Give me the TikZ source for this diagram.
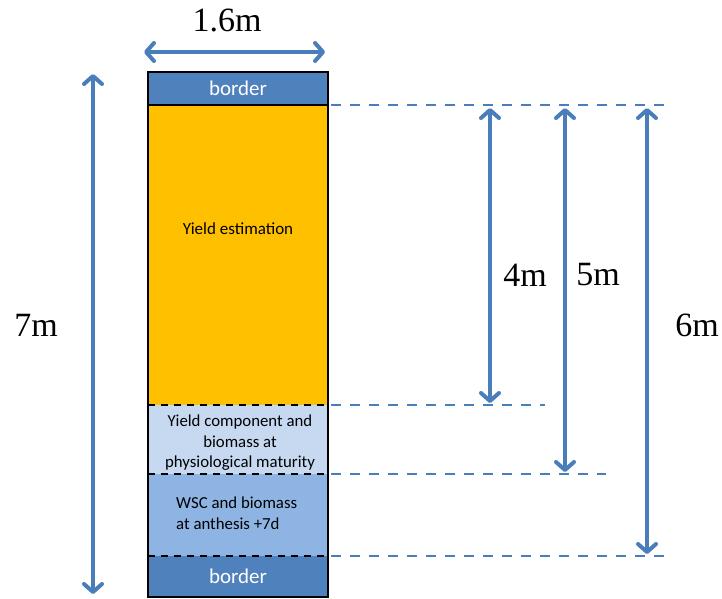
\documentclass[tikz,border=0pt]{standalone}
\usepackage{fontspec}
\setmainfont{Liberation Serif}
\newfontfamily\calfont{Carlito}
\usetikzlibrary{arrows.meta}
\definecolor{dimblue}{HTML}{4A7EBB}
\definecolor{bordblue}{HTML}{4F81BD}
\definecolor{gold}{HTML}{FFC000}
\definecolor{lightblue}{HTML}{C6D9F1}
\definecolor{midblue}{HTML}{8DB4E2}
\tikzset{
  band/.style={rectangle, draw=none, anchor=north west, minimum width=180pt, inner sep=0pt, outer sep=0pt, font=\calfont, align=center},
  dim/.style={draw=dimblue, line width=4pt, {Straight Barb[length=8pt,width=18pt,line cap=round,line join=round]}-{Straight Barb[length=8pt,width=18pt,line cap=round,line join=round]}},
  guide/.style={draw=dimblue, line width=2.6pt, dash pattern=on 10pt off 9pt},
  sep/.style={draw=black, line width=1.2pt, dash pattern=on 7pt off 6pt},
  dimlab/.style={font=\fontsize{34}{38}\selectfont, inner sep=0pt},
  bandtext/.style={font=\calfont\fontsize{16.8}{20.5}\selectfont, inner sep=0pt}
}
\begin{document}
\begin{tikzpicture}[x=1pt,y=-1pt]
\useasboundingbox (0,0) rectangle (722,598);
% bands
\node[band, fill=bordblue, minimum height=33pt, text=white, font=\calfont\fontsize{21}{24}\selectfont] (btop) at (148,72) {border};
\node[band, fill=gold, minimum height=300pt] (yield) at (148,105) {};
\node[font=\calfont\fontsize{17}{20}\selectfont, inner sep=0pt] (ylab) at (238,229) {Yield estimation};
\node[band, fill=lightblue, minimum height=69pt] (comp) at (148,405) {};
\node[bandtext, align=center] (clab) at (240,443) {Yield component and\\biomass at\\physiological maturity};
\node[band, fill=midblue, minimum height=82pt] (wsc) at (148,474) {};
\node[bandtext, align=left, anchor=west] (wlab) at (176,513) {WSC and biomass\\at anthesis +7d};
\node[band, fill=bordblue, minimum height=41pt, text=white, font=\calfont\fontsize{21}{24}\selectfont] (bbot) at (148,556) {border};
% separators
\draw[sep] (comp.north west) -- (comp.north east);
\draw[sep] (wsc.north west) -- (wsc.north east);
\draw[sep] (bbot.north west) -- (bbot.north east);
\draw[black, line width=1.4pt] (btop.north west) rectangle (bbot.south east);
\draw[black, line width=1.4pt] (btop.south west) -- (btop.south east);
% guide coordinates
\coordinate (g1s) at (331,105); \coordinate (g1e) at (667,105);
\coordinate (g2s) at (331,405); \coordinate (g2e) at (545,405);
\coordinate (g3s) at (331,474); \coordinate (g3e) at (606,474);
\coordinate (g4s) at (331,556); \coordinate (g4e) at (667,556);
\draw[guide] (g1s) -- (g1e);
\draw[guide] (g2s) -- (g2e);
\draw[guide] (g3s) -- (g3e);
\draw[guide] (g4s) -- (g4e);
% dimension arrows
\coordinate (a4t) at (490,108); \coordinate (a4b) at (490,403);
\coordinate (a5t) at (565,108); \coordinate (a5b) at (565,472);
\coordinate (a6t) at (647,108); \coordinate (a6b) at (647,554);
\coordinate (a7t) at (93,74); \coordinate (a7b) at (93,594);
\coordinate (awl) at (144,52); \coordinate (awr) at (325,52);
\draw[dim] (a4t) -- (a4b);
\draw[dim] (a5t) -- (a5b);
\draw[dim] (a6t) -- (a6b);
\draw[dim] (a7t) -- (a7b);
\draw[dim] (awl) -- (awr);
% labels
\node[dimlab] (l16) at (227,20) {1.6m};
\node[dimlab] (l7) at (36,325) {7m};
\node[dimlab] (l4) at (525,275) {4m};
\node[dimlab] (l5) at (598,275) {5m};
\node[dimlab] (l6) at (697,325) {6m};
\end{tikzpicture}
\end{document}
